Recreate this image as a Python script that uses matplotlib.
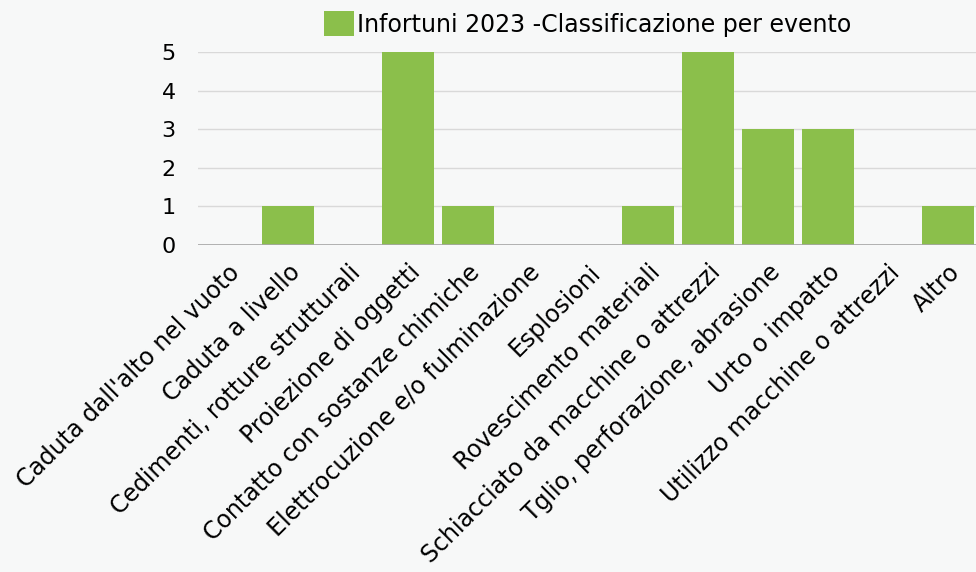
import numpy as np
import matplotlib.pyplot as plt

categories = [
    "Caduta dall'alto nel vuoto",
    "Caduta a livello",
    "Cedimenti, rotture strutturali",
    "Proiezione di oggetti",
    "Contatto con sostanze chimiche",
    "Elettrocuzione e/o fulminazione",
    "Esplosioni",
    "Rovescimento materiali",
    "Schiacciato da macchine o attrezzi",
    "Tglio, perforazione, abrasione",
    "Urto o impatto",
    "Utilizzo macchine o attrezzi",
    "Altro",
]
values = [0, 1, 0, 5, 1, 0, 0, 1, 5, 3, 3, 0, 1]
series_name = "Infortuni 2023 -Classificazione per evento"

bg = "#f7f8f8"
green = "#8bbf4b"

plt.rcParams['font.family'] = ['DejaVu Sans']

fig = plt.figure(figsize=(9.76, 5.72), dpi=100, facecolor=bg)
ax = fig.add_axes([198 / 976, 1 - 245 / 572, 780 / 976, 193 / 572])
ax.set_facecolor(bg)

x = np.arange(len(categories))
ax.bar(x, values, width=0.88, color=green, label=series_name, zorder=3)

ax.set_xlim(-0.5, len(categories) - 0.5)
ax.set_ylim(0, 5)
ax.set_yticks(range(0, 6))
ax.grid(axis='y', color='#d9d9d9', linewidth=1, zorder=0)
ax.axhline(0, color='#a6a6a6', linewidth=1.2, zorder=4)

for s in ax.spines.values():
    s.set_visible(False)
ax.tick_params(axis='both', length=0)
ax.tick_params(axis='y', pad=16, labelsize=16)
ax.tick_params(axis='x', pad=11)
ax.set_xticks(x)
ax.set_xticklabels(categories, rotation=45, ha='right', va='top',
                   rotation_mode='anchor', fontsize=17)

ax.legend(loc='lower center', bbox_to_anchor=(0.5, 1.03), frameon=False,
          fontsize=17, handlelength=1.25, handleheight=1.25, handletextpad=0.15,
          borderaxespad=0)

fig.savefig("out.png", dpi=100, facecolor=bg)
